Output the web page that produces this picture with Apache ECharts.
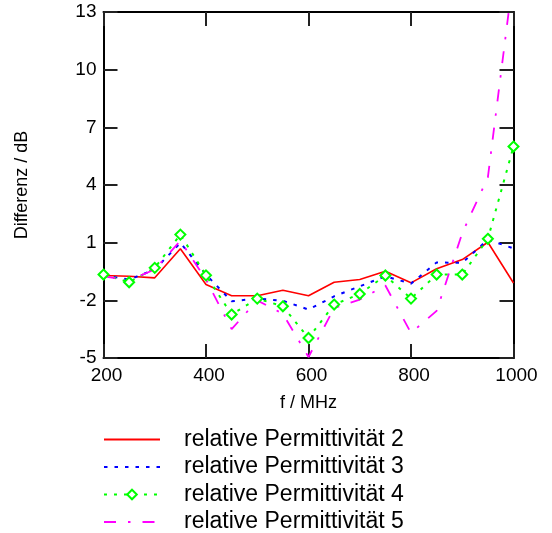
<!DOCTYPE html>
<html>
<head>
<meta charset="utf-8">
<script src="https://cdn.jsdelivr.net/npm/echarts@6/dist/echarts.min.js"></script>
<style>
  html, body { margin: 0; padding: 0; background: #fff; }
  #chart { width: 552px; height: 533px; }
</style>
</head>
<body>
<div id="chart"></div>
<script>
// Frequency grid in MHz
var freqMHz = [200, 250, 300, 350, 400, 450, 500, 550, 600, 650, 700, 750, 800, 850, 900, 950, 1000];

// Level difference in dB for each relative permittivity
var diffEps2 = [-0.71, -0.75, -0.83, 0.68, -1.18, -1.76, -1.76, -1.48, -1.76, -1.06, -0.92, -0.49, -1.09, -0.36, 0.12, 1.02, -1.1];
var diffEps3 = [-0.7, -0.92, -0.4, 0.99, -0.66, -2.05, -1.91, -2.02, -2.48, -1.79, -1.27, -0.75, -1.13, -0.03, -0.05, 1.16, 0.7];
var diffEps4 = [-0.66, -1.06, -0.31, 1.42, -0.7, -2.74, -1.91, -2.31, -3.96, -2.22, -1.67, -0.71, -1.91, -0.66, -0.66, 1.2, 6.0];
var diffEps5 = [-0.75, -0.95, -0.4, 1.1, -0.92, -3.5, -2.0, -2.7, -4.95, -2.4, -1.96, -1.23, -3.7, -2.55, 1.5, 4.4, 15.0];

var seriesNames = [
  'relative Permittivität 2',
  'relative Permittivität 3',
  'relative Permittivität 4',
  'relative Permittivität 5'
];

// Axis ranges and tick steps
var xMin = 200, xMax = 1000, xStep = 200;
var yMin = -5, yMax = 13, yStep = 3;

function pairs(xs, ys) {
  return xs.map(function (x, i) { return [x, ys[i]]; });
}

var FONT = '"Liberation Sans", Arial, sans-serif';
var frameLine = { show: true, onZero: false, lineStyle: { color: '#000', width: 2 } };
var innerTicks = { show: true, inside: true, length: 14, lineStyle: { color: '#222', width: 2 } };
var plainNumber = function (v) { return String(v); };

// Line-only legend entries (no marker in the key)
var hiddenMarker = { opacity: 0 };

var chart = echarts.init(document.getElementById('chart'), null, { renderer: 'canvas' });

chart.setOption({
  animation: false,
  backgroundColor: '#fff',
  grid: { left: 103.5, right: 38.5, top: 12, bottom: 175, containLabel: false },
  xAxis: [
    {
      type: 'value', position: 'bottom', min: xMin, max: xMax, interval: xStep,
      name: 'f / MHz', nameLocation: 'middle', nameGap: 36,
      nameTextStyle: { fontFamily: FONT, fontSize: 18, color: '#000' },
      axisLine: frameLine, axisTick: innerTicks, splitLine: { show: false },
      axisLabel: { fontFamily: FONT, fontSize: 19, color: '#000', margin: 8, padding: [0, 0, 0, 6], formatter: plainNumber }
    },
    {
      type: 'value', position: 'top', min: xMin, max: xMax, interval: xStep,
      axisLine: frameLine, axisTick: innerTicks, splitLine: { show: false },
      axisLabel: { show: false }
    }
  ],
  yAxis: [
    {
      type: 'value', position: 'left', min: yMin, max: yMax, interval: yStep,
      name: 'Differenz / dB', nameLocation: 'middle', nameGap: 72, nameRotate: 90,
      nameTextStyle: { fontFamily: FONT, fontSize: 18, color: '#000' },
      axisLine: frameLine, axisTick: innerTicks, splitLine: { show: false },
      axisLabel: { fontFamily: FONT, fontSize: 19, color: '#000', margin: 7, padding: [4, 0, 0, 0], formatter: plainNumber }
    },
    {
      type: 'value', position: 'right', min: yMin, max: yMax, interval: yStep,
      axisLine: frameLine, axisTick: innerTicks, splitLine: { show: false },
      axisLabel: { show: false }
    }
  ],
  legend: {
    orient: 'vertical', left: 98, top: 423, height: 110, width: 420,
    itemWidth: 56, itemHeight: 12, itemGap: 4.5,
    textStyle: { fontFamily: FONT, fontSize: 23, color: '#000', lineHeight: 22, padding: [0, 0, 0, 19] },
    data: [
      { name: seriesNames[0], itemStyle: hiddenMarker },
      { name: seriesNames[1], itemStyle: hiddenMarker },
      { name: seriesNames[2] },
      { name: seriesNames[3], itemStyle: hiddenMarker }
    ]
  },
  series: [
    {
      name: seriesNames[0], type: 'line', data: pairs(freqMHz, diffEps2),
      symbol: 'none', clip: true,
      lineStyle: { color: '#ff0000', width: 1.6, type: 'solid' },
      itemStyle: { color: '#ff0000' }
    },
    {
      name: seriesNames[1], type: 'line', data: pairs(freqMHz, diffEps3),
      symbol: 'none', clip: true,
      lineStyle: { color: '#0000ff', width: 2, type: [3.5, 7] },
      itemStyle: { color: '#0000ff' }
    },
    {
      name: seriesNames[2], type: 'line', data: pairs(freqMHz, diffEps4),
      symbol: 'emptyDiamond', symbolSize: 10, clip: true,
      lineStyle: { color: '#00ff00', width: 2, type: [3, 7] },
      itemStyle: { color: '#00ff00', borderColor: '#00ff00', borderWidth: 1.6 }
    },
    {
      name: seriesNames[3], type: 'line', data: pairs(freqMHz, diffEps5),
      symbol: 'none', clip: true,
      lineStyle: { color: '#ff00ff', width: 1.8, type: [12, 12, 2.5, 12] },
      itemStyle: { color: '#ff00ff' }
    }
  ]
});
</script>
</body>
</html>
